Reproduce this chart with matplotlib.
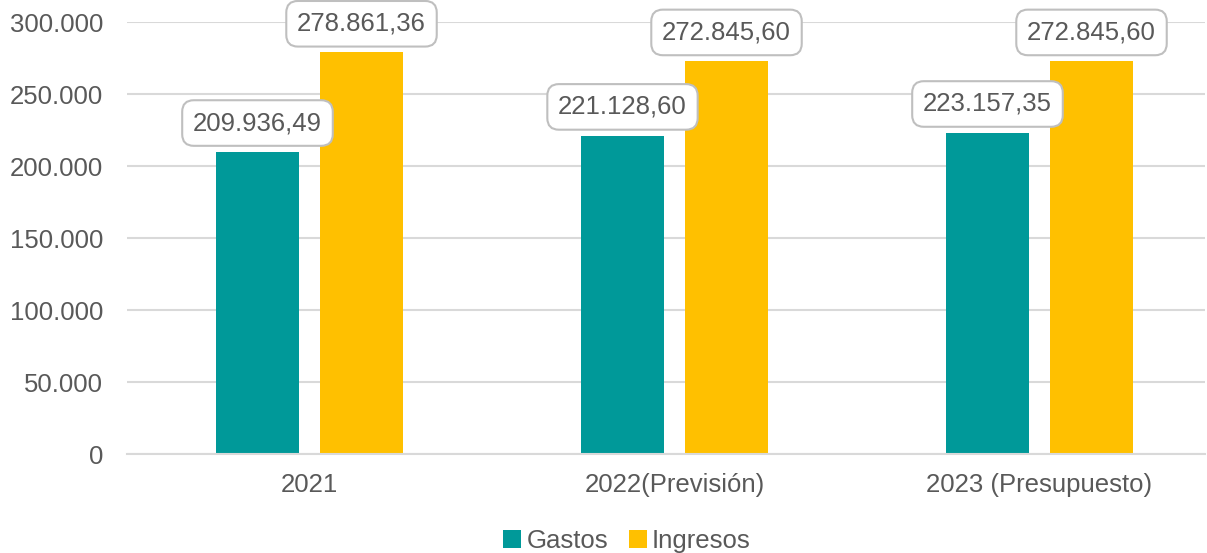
import matplotlib
matplotlib.use("Agg")
import matplotlib.pyplot as plt
import numpy as np

categories = ["2021", "2022(Previsión)", "2023 (Presupuesto)"]
gastos = [209936.49, 221128.60, 223157.35]
ingresos = [278861.36, 272845.60, 272845.60]
yticks = [0, 50000, 100000, 150000, 200000, 250000, 300000]

plt.rcParams['font.family'] = ['Liberation Sans', 'DejaVu Sans']
TXT = '#595959'

def fmt_int(v):
    return f"{int(v):,}".replace(",", ".")

def fmt_dec(v):
    s = f"{v:,.2f}"
    return s.replace(",", "X").replace(".", ",").replace("X", ".")

fig = plt.figure(figsize=(12.07, 5.53), dpi=100)
ax = fig.add_axes([127/1207, 1-454/553, (1205-127)/1207, (454-22)/553])

x = np.arange(len(categories))
w = 0.23
off = 0.1425
b1 = ax.bar(x - off, gastos, w, color='#009999', label='Gastos', zorder=3)
b2 = ax.bar(x + off, ingresos, w, color='#FFC000', label='Ingresos', zorder=3)

FS = 18.5
ax.set_xlim(-0.5, 2.5 - 17/365)
ax.set_ylim(0, 300000)
ax.set_yticks(yticks)
ax.set_yticklabels([fmt_int(v) for v in yticks], fontsize=FS, color=TXT)
ax.set_xticks(x)
ax.set_xticklabels(categories, fontsize=FS, color=TXT)
ax.tick_params(axis='both', length=0)
ax.tick_params(axis='y', pad=17)
ax.tick_params(axis='x', pad=14)
ax.grid(axis='y', color='#D9D9D9', linewidth=1.5, zorder=0)
for s in ['top', 'right', 'left']:
    ax.spines[s].set_visible(False)
ax.spines['bottom'].set_color('#D9D9D9')
ax.spines['bottom'].set_linewidth(1.5)
ax.spines['bottom'].set_zorder(4)

for bars, vals in [(b1, gastos), (b2, ingresos)]:
    for r, v in zip(bars, vals):
        ax.annotate(fmt_dec(v), (r.get_x() + r.get_width()/2, v),
                    xytext=(0, 12), textcoords='offset points',
                    ha='center', va='bottom', fontsize=FS, color=TXT, zorder=5,
                    bbox=dict(boxstyle='round,pad=0.42,rounding_size=0.45',
                              fc='white', ec='#BFBFBF', lw=1.5))

leg = fig.legend(handles=[b1, b2], labels=['Gastos', 'Ingresos'], loc='center',
                 bbox_to_anchor=(627/1207, 1-541/553), ncol=2, frameon=False,
                 fontsize=FS, handlelength=0.7, handleheight=0.7,
                 handletextpad=0.2, columnspacing=0.8)
for t in leg.get_texts():
    t.set_color(TXT)

fig.savefig("out.png", dpi=100)
